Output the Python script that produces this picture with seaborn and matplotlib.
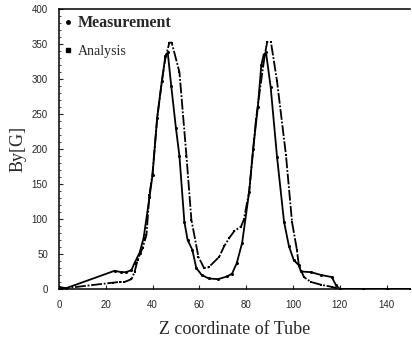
import numpy as np
import pandas as pd
import matplotlib.pyplot as plt
import seaborn as sns
from matplotlib.lines import Line2D

# values
meas_z = [0, 3, 23.8, 26.6, 28.7, 31, 32.3, 34.5, 36.2, 38.7, 40, 42, 44, 45.5, 46.5,
          48, 50, 51.5, 53.6, 55, 57, 58.7, 61, 64, 68, 72, 74, 76, 78.3, 81.3, 83,
          85, 86.5, 87.5, 88.5, 90.5, 93.2, 96.2, 98.3, 100.4, 102.5, 103.4, 107.7,
          112, 116.6, 118.3, 120, 130, 140, 150]
meas_by = [3, 1, 26, 24, 24, 27, 37, 52, 73, 131, 163, 245, 297, 333, 338,
           290, 230, 190, 96, 70, 56, 30, 20, 15, 14, 18, 22, 37, 66, 139, 200,
           260, 320, 335, 338, 288, 189, 96, 61, 41, 34, 25, 24,
           20, 17, 6, 0, 0, 0, 0]

anal_z = [0, 23, 26, 28, 31, 32.3, 33.7, 35.8, 37.4, 38.7, 40, 42, 44, 45.5, 47.2,
          48.2, 51.5, 54.5, 56.6, 59.6, 62, 64, 68.5, 70.6, 72.8, 75, 77.8, 79,
          81.3, 84.2, 86.4, 88, 89, 90.6, 93.2, 97, 99.6, 101.7, 102.5, 104.7,
          107.7, 112, 116.6, 120, 130, 140, 150]
anal_by = [0, 9, 10, 10, 14, 24, 42, 59, 77, 135, 165, 245, 297, 330, 352,
           352, 310, 190, 99, 46, 30, 31, 46, 61, 73, 83, 89, 99,
           139, 242, 297, 335, 353, 353, 297, 192, 96, 56, 34, 17,
           10, 6, 3, 0, 0, 0, 0]

x_ticks = [0, 20, 40, 60, 80, 100, 120, 140]
y_ticks = [0, 50, 100, 150, 200, 250, 300, 350, 400]

sns.set_style('ticks')
plt.rcParams['font.family'] = ['Liberation Sans', 'DejaVu Sans']

fig = plt.figure(figsize=(4.12, 3.49), dpi=100)
ax = fig.add_axes([0.143, 0.172, 0.852, 0.802])

sns.lineplot(x=meas_z, y=meas_by, ax=ax, color='black', lw=1.3, marker='o',
             markersize=2.2, markeredgewidth=0, sort=False, estimator=None)
sns.lineplot(x=anal_z, y=anal_by, ax=ax, color='black', lw=1.3, marker='s',
             markersize=2.0, markeredgewidth=0, sort=False, estimator=None,
             linestyle=(0, (6, 1, 1, 1)))

ax.set_xlim(0, 150)
ax.set_ylim(0, 400)
ax.set_xticks(x_ticks)
ax.set_yticks(y_ticks)
ax.set_yticks(np.arange(0, 401, 10), minor=True)
ax.tick_params(axis='both', which='major', direction='in', length=3, width=0.8,
               labelsize=7, pad=8)
ax.tick_params(axis='y', which='minor', direction='in', length=1.5, width=0.6)
ax.spines['right'].set_visible(False)
for s in ['top', 'left', 'bottom']:
    ax.spines[s].set_linewidth(1.1)
    ax.spines[s].set_color('black')

ax.set_xlabel('Z coordinate of Tube', family=['Liberation Serif', 'DejaVu Serif'],
              fontsize=13, labelpad=8)
ax.set_ylabel('By[G]', family=['Liberation Serif', 'DejaVu Serif'],
              fontsize=13, labelpad=4)

handles = [Line2D([], [], color='black', marker='o', markersize=2.5, lw=0),
           Line2D([], [], color='black', marker='s', markersize=3, lw=0)]
leg = ax.legend(handles, ['Measurement', 'Analysis'], loc='upper left',
                frameon=False, handlelength=0.4, handletextpad=0.4,
                labelspacing=0.8, borderaxespad=0.0,
                prop={'family': ['Liberation Serif', 'DejaVu Serif'], 'size': 11.5})
leg.get_texts()[0].set_fontweight('bold')
leg.get_texts()[1].set_fontsize(10)

fig.savefig('out.png', dpi=100)
